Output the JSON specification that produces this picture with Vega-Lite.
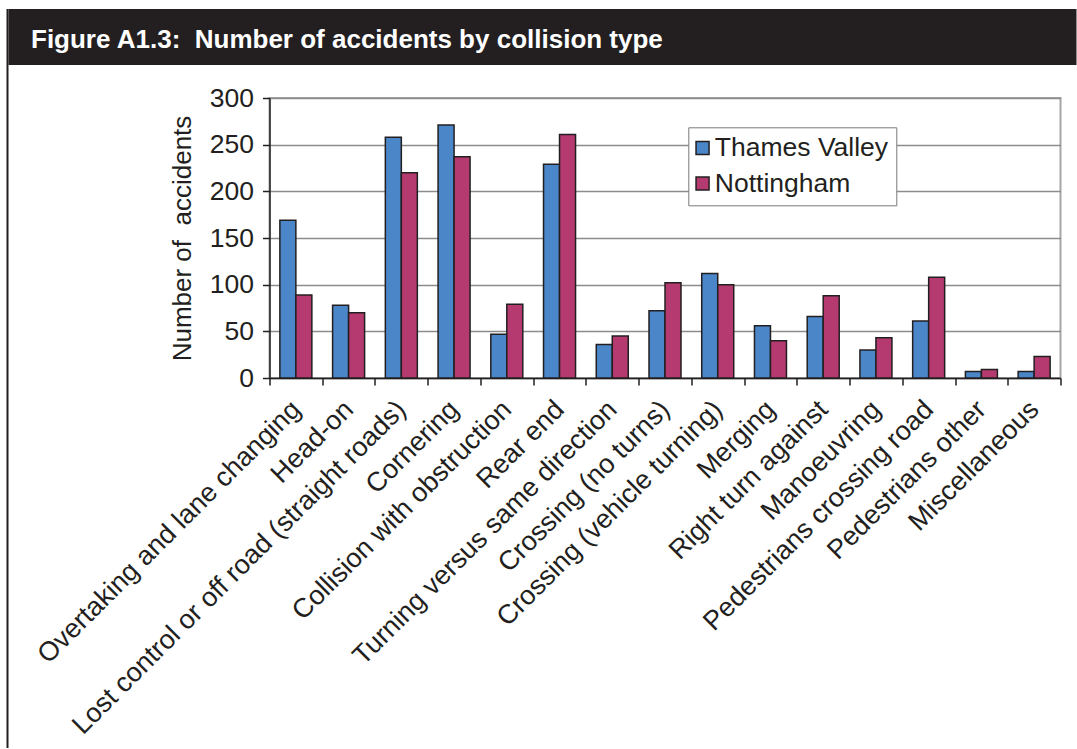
{
  "$schema": "https://vega.github.io/schema/vega-lite/v6.json",
  "background": "white",
  "padding": {"left": 6.5, "top": 9, "right": 0, "bottom": 0},
  "config": {
    "font": "Liberation Sans",
    "view": {"stroke": null},
    "axis": {
      "labelFont": "Liberation Sans",
      "titleFont": "Liberation Sans",
      "labelColor": "#231f20",
      "titleColor": "#231f20",
      "domainColor": "#231f20",
      "tickColor": "#231f20",
      "domainWidth": 1.5,
      "tickWidth": 1.5,
      "tickSize": 7
    }
  },
  "spacing": 0,
  "hconcat": [
    {
      "width": 2,
      "height": 739,
      "view": {"fill": "#231f20", "stroke": null},
      "data": {"values": []},
      "mark": "point"
    },
    {
      "spacing": 19,
      "vconcat": [
        {
          "width": 1068,
          "height": 56,
          "view": {"fill": "#231f20", "stroke": null},
          "data": {"values": [{"label": "Figure A1.3:\u00a0 Number of accidents by collision type", "pos": 0}]},
          "mark": {
            "type": "text",
            "align": "left",
            "baseline": "middle",
            "dx": 22.5,
            "dy": 2.5,
            "color": "white",
            "font": "Liberation Sans",
            "fontSize": 26,
            "fontWeight": "bold"
          },
          "encoding": {
            "x": {"field": "pos", "type": "quantitative", "scale": {"domain": [0, 1]}, "axis": null},
            "text": {"field": "label"}
          }
        },
        {
          "spacing": 0,
          "hconcat": [
            {
              "width": 22,
              "height": 1,
              "data": {"values": []},
              "mark": "point"
            },
            {
              "width": 791,
              "height": 280,
              "view": {"stroke": "#a6a6a6", "strokeWidth": 2},
              "data": {
                "values": [
                  {"type": "Overtaking and lane changing", "area": "Thames Valley", "accidents": 169},
                  {"type": "Overtaking and lane changing", "area": "Nottingham", "accidents": 89},
                  {"type": "Head-on", "area": "Thames Valley", "accidents": 78},
                  {"type": "Head-on", "area": "Nottingham", "accidents": 70},
                  {"type": "Lost control or off road (straight roads)", "area": "Thames Valley", "accidents": 258},
                  {"type": "Lost control or off road (straight roads)", "area": "Nottingham", "accidents": 220},
                  {"type": "Cornering", "area": "Thames Valley", "accidents": 271},
                  {"type": "Cornering", "area": "Nottingham", "accidents": 237},
                  {"type": "Collision with obstruction", "area": "Thames Valley", "accidents": 47},
                  {"type": "Collision with obstruction", "area": "Nottingham", "accidents": 79},
                  {"type": "Rear end", "area": "Thames Valley", "accidents": 229},
                  {"type": "Rear end", "area": "Nottingham", "accidents": 261},
                  {"type": "Turning versus same direction", "area": "Thames Valley", "accidents": 36},
                  {"type": "Turning versus same direction", "area": "Nottingham", "accidents": 45},
                  {"type": "Crossing (no turns)", "area": "Thames Valley", "accidents": 72},
                  {"type": "Crossing (no turns)", "area": "Nottingham", "accidents": 102},
                  {"type": "Crossing (vehicle turning)", "area": "Thames Valley", "accidents": 112},
                  {"type": "Crossing (vehicle turning)", "area": "Nottingham", "accidents": 100},
                  {"type": "Merging", "area": "Thames Valley", "accidents": 56},
                  {"type": "Merging", "area": "Nottingham", "accidents": 40},
                  {"type": "Right turn against", "area": "Thames Valley", "accidents": 66},
                  {"type": "Right turn against", "area": "Nottingham", "accidents": 88},
                  {"type": "Manoeuvring", "area": "Thames Valley", "accidents": 30},
                  {"type": "Manoeuvring", "area": "Nottingham", "accidents": 43},
                  {"type": "Pedestrians crossing road", "area": "Thames Valley", "accidents": 61},
                  {"type": "Pedestrians crossing road", "area": "Nottingham", "accidents": 108},
                  {"type": "Pedestrians other", "area": "Thames Valley", "accidents": 7},
                  {"type": "Pedestrians other", "area": "Nottingham", "accidents": 9},
                  {"type": "Miscellaneous", "area": "Thames Valley", "accidents": 7},
                  {"type": "Miscellaneous", "area": "Nottingham", "accidents": 23}
                ]
              },
              "mark": {"type": "bar", "stroke": "#231f20", "strokeWidth": 1.5},
              "encoding": {
                "x": {
                  "field": "type",
                  "type": "nominal",
                  "sort": null,
                  "title": null,
                  "scale": {"paddingInner": 0, "paddingOuter": 0},
                  "axis": {
                    "labelAngle": -45,
                    "labelAlign": "right",
                    "labelBaseline": "middle",
                    "labelFontSize": 27,
                    "labelPadding": 20,
                    "labelLimit": 800,
                    "tickBand": "extent",
                    "grid": false
                  }
                },
                "xOffset": {
                  "field": "area",
                  "type": "nominal",
                  "sort": ["Thames Valley", "Nottingham"],
                  "scale": {"paddingInner": 0, "paddingOuter": 0.648}
                },
                "y": {
                  "field": "accidents",
                  "type": "quantitative",
                  "scale": {"domain": [0, 300], "nice": false},
                  "axis": {
                    "values": [0, 50, 100, 150, 200, 250, 300],
                    "title": "Number of\u00a0 accidents",
                    "titleFontSize": 26,
                    "titleFontWeight": "normal",
                    "titlePadding": 14,
                    "labelFontSize": 26.5,
                    "labelPadding": 9,
                    "gridColor": "#8c8c8c",
                    "gridWidth": 1.5
                  }
                },
                "color": {
                  "field": "area",
                  "type": "nominal",
                  "sort": ["Thames Valley", "Nottingham"],
                  "scale": {"domain": ["Thames Valley", "Nottingham"], "range": ["#4a86c8", "#b43a70"]},
                  "legend": {
                    "orient": "none",
                    "legendX": 681.8,
                    "legendY": 118.3,
                    "title": null,
                    "fillColor": "white",
                    "strokeColor": "#7a7a7a",
                    "padding": 7.5,
                    "labelFontSize": 26.5,
                    "labelFont": "Liberation Sans",
                    "labelColor": "#231f20",
                    "labelLimit": 400,
                    "labelOffset": -1,
                    "symbolOffset": -6.5,
                    "rowPadding": 8.5,
                    "symbolType": "square",
                    "symbolSize": 169,
                    "symbolStrokeColor": "#231f20",
                    "symbolStrokeWidth": 1.5,
                    "symbolOpacity": 1
                  }
                }
              }
            }
          ]
        }
      ]
    }
  ]
}
